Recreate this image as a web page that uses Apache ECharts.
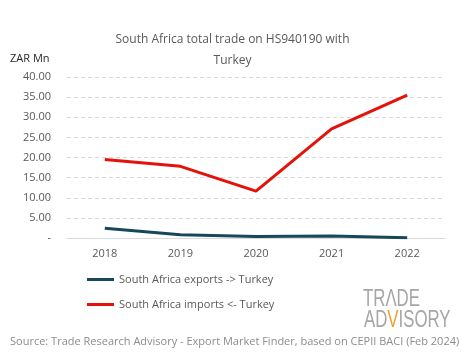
<!DOCTYPE html>
<html><head><meta charset="utf-8">
<script src="https://cdn.jsdelivr.net/npm/echarts@6/dist/echarts.min.js"></script>
<style>html,body{margin:0;padding:0;background:#fff}#c{width:465px;height:359px}</style>
</head><body><div id="c"></div>
<script>
const years = ['2018', '2019', '2020', '2021', '2022'];
const exportsToTurkey = [2.4, 0.8, 0.4, 0.5, 0.05];
const importsFromTurkey = [19.5, 17.8, 11.65, 27.1, 35.5];
const seriesNames = ['South Africa exports -> Turkey', 'South Africa imports <- Turkey'];
const titleText = 'South Africa total trade on HS940190 with\n\nTurkey';
const unitLabel = 'ZAR Mn';
const sourceText = 'Source: Trade Research Advisory - Export Market Finder, based on CEPII BACI (Feb 2024)';

const FONT = 'Open Sans';
const LOGO = 'Liberation Sans';
const chart = echarts.init(document.getElementById('c'));
chart.setOption({
  animation: false,
  textStyle: { fontFamily: FONT },
  title: {
    text: titleText, left: 'center', top: 29,
    textStyle: { fontSize: 12, fontWeight: 'normal', color: '#595959', lineHeight: 10.5, fontFamily: FONT }
  },
  grid: { left: 67, right: 20, top: 77, bottom: 121 },
  legend: {
    orient: 'vertical', left: 82, top: 269, itemGap: 14,
    icon: 'rect', itemWidth: 27, itemHeight: 3,
    textStyle: { fontSize: 11, color: '#595959', fontFamily: FONT },
    data: seriesNames
  },
  xAxis: {
    type: 'category', data: years, boundaryGap: true,
    axisLine: { lineStyle: { color: '#d9d9d9' } },
    axisTick: { show: false },
    axisLabel: { color: '#595959', fontSize: 11, margin: 10 }
  },
  yAxis: {
    type: 'value', min: 0, max: 40, interval: 5,
    axisLine: { show: false }, axisTick: { show: false },
    splitLine: { lineStyle: { color: '#d9d9d9', type: [4, 3] } },
    axisLabel: {
      color: '#595959', fontSize: 11, margin: 16,
      formatter: v => v === 0 ? '-' : v.toFixed(2)
    }
  },
  series: [
    { name: seriesNames[0], type: 'line', data: exportsToTurkey, symbol: 'none',
      lineStyle: { color: '#17485a', width: 3 }, itemStyle: { color: '#17485a' } },
    { name: seriesNames[1], type: 'line', data: importsFromTurkey, symbol: 'none',
      lineStyle: { color: '#e3120b', width: 3 }, itemStyle: { color: '#e3120b' } }
  ],
  graphic: [
    { type: 'text', left: 10, top: 53, style: { text: unitLabel, fontSize: 11, fill: '#262626', fontFamily: FONT } },
    { type: 'text', left: 10, top: 336, style: { text: sourceText, fontSize: 11, fill: '#8c8c8c', fontFamily: FONT } },
    { type: 'text', x: 363, y: 287, scaleX: 0.7, style: {
        text: '{g|TR}{g|Λ}{g|DE}',
        rich: { g: { fontSize: 24, fill: '#a6a6a6', fontFamily: LOGO } } } },
    { type: 'text', x: 364, y: 308, scaleX: 0.7, style: {
        text: '{g|AD}{o|V}{g|ISORY}',
        rich: { g: { fontSize: 24, fill: '#a6a6a6', fontFamily: LOGO },
                o: { fontSize: 24, fill: '#f0a030', fontFamily: LOGO } } } }
  ]
});
</script></body></html>
